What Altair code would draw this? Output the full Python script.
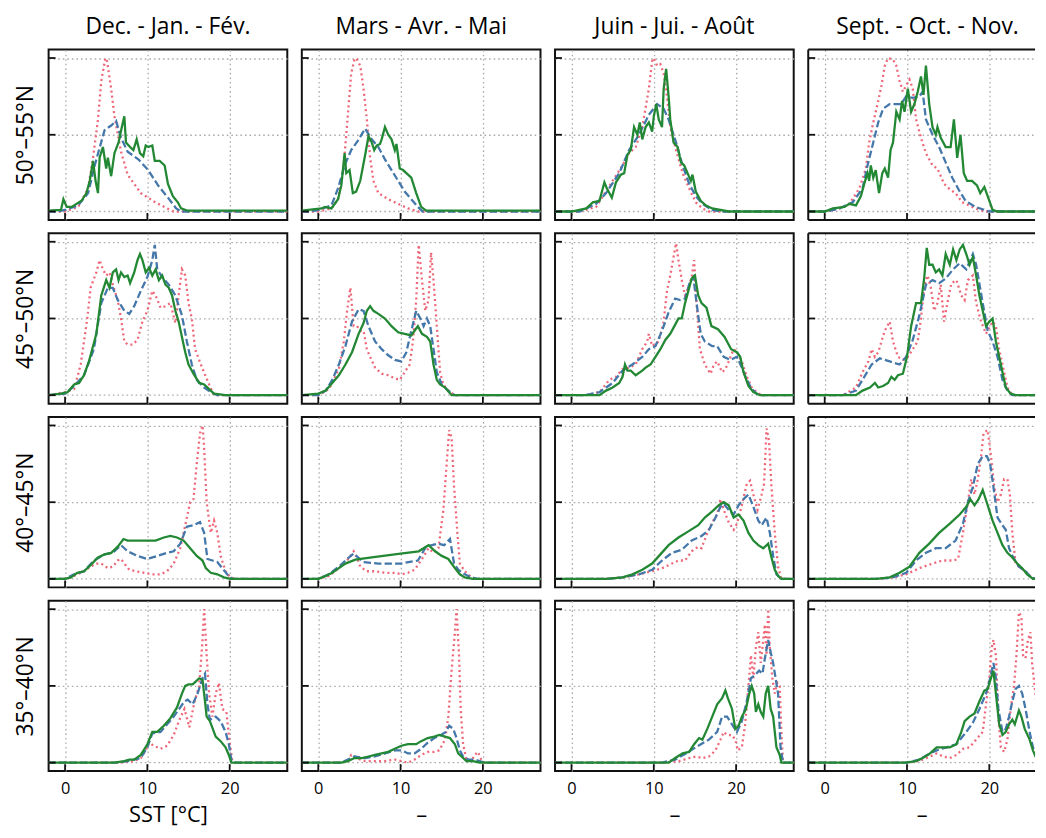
import altair as alt
import pandas as pd

SEASONS = ["Dec. - Jan. - Fév.", "Mars - Avr. - Mai", "Juin - Jui. - Août", "Sept. - Oct. - Nov."]
BANDS = ["50°–55°N", "45°–50°N", "40°–45°N", "35°–40°N"]
X_TITLES = ["SST [°C]", "–", "–", "–"]
X_TICKS = [0, 10, 20]
Y_TICKS = [0, 0.5, 1]
SERIES = ["pointillé", "tirets", "continu"]

# ---- row 1 : 50°–55°N ----
R1C1_RED = [(-2,0),(0,0),(1.6,0.03),(2.8,0.15),(3.4,0.35),(4.0,0.6),(4.4,0.85),(4.9,1.0),(5.1,0.98),(5.6,0.8),(6.0,0.62),(6.8,0.39),(7.6,0.24),(9.2,0.12),(10.8,0.065),(12.4,0.02),(13.2,0),(27,0)]
R1C1_BLUE = [(-2,0),(-1,0),(0,0.01),(1.6,0.04),(2.8,0.12),(3.6,0.3),(4.8,0.53),(5.6,0.56),(6.2,0.59),(6.8,0.48),(7.6,0.39),(8.9,0.34),(10.1,0.27),(11.3,0.17),(12.5,0.09),(13.5,0.02),(14.1,0),(27,0)]
R1C1_GREEN = [(-2,0.005),(-0.5,0.01),(-0.2,0.08),(0.2,0.03),(0.8,0.03),(2.0,0.07),(2.6,0.12),(3.0,0.2),(3.4,0.33),(3.7,0.2),(4.0,0.12),(4.2,0.35),(4.6,0.42),(5.0,0.28),(5.2,0.35),(5.6,0.23),(6.0,0.38),(6.5,0.45),(6.9,0.55),(7.2,0.62),(7.4,0.45),(7.9,0.42),(8.3,0.4),(8.7,0.47),(9.1,0.38),(9.5,0.36),(9.8,0.43),(10.1,0.42),(10.6,0.43),(10.9,0.33),(11.5,0.33),(12.1,0.3),(12.5,0.18),(13.1,0.1),(13.7,0.06),(14.1,0.02),(14.9,0.005),(27,0.005)]

R1C2_RED = [(-2,0),(0,0),(1.6,0.02),(2.4,0.08),(3.0,0.25),(3.4,0.5),(3.7,0.7),(4.0,0.9),(4.4,0.99),(4.6,1.0),(5.1,0.95),(5.5,0.8),(5.9,0.6),(6.3,0.35),(6.7,0.2),(7.3,0.12),(8.5,0.08),(9.7,0.05),(10.9,0.02),(12.1,0),(27,0)]
R1C2_BLUE = [(-2,0),(-1,0),(0,0.01),(1.6,0.04),(2.4,0.15),(3.2,0.3),(4.0,0.4),(4.8,0.46),(5.7,0.54),(6.5,0.47),(7.3,0.42),(8.1,0.34),(8.9,0.27),(9.7,0.2),(10.5,0.13),(11.3,0.08),(12.1,0.03),(12.7,0),(27,0)]
R1C2_GREEN = [(-2,0.005),(-1.2,0.01),(0.4,0.02),(0.8,0.03),(1.6,0.02),(2.4,0.08),(2.8,0.17),(3.2,0.38),(3.4,0.25),(3.8,0.27),(4.2,0.12),(4.6,0.13),(5.1,0.2),(5.7,0.37),(6.1,0.49),(6.5,0.45),(6.8,0.4),(7.1,0.43),(7.5,0.44),(7.7,0.47),(8.1,0.55),(8.5,0.5),(8.9,0.47),(9.3,0.4),(9.5,0.44),(9.9,0.28),(10.3,0.27),(10.9,0.24),(11.3,0.22),(11.9,0.12),(12.5,0.03),(13.1,0.005),(27,0.005)]

R1C3_RED = [(-2,0),(1.0,0),(3.0,0.03),(5.0,0.2),(6.2,0.3),(7.0,0.38),(7.8,0.42),(8.6,0.55),(9.4,0.8),(9.8,0.98),(10.0,1.0),(10.4,0.95),(10.8,0.96),(11.2,0.9),(11.6,0.75),(12.0,0.55),(12.7,0.4),(13.5,0.25),(14.3,0.15),(15.1,0.06),(15.9,0.02),(16.7,0),(27,0)]
R1C3_BLUE = [(-2,0),(1.0,0),(3.0,0.05),(4.2,0.12),(5.8,0.25),(7.0,0.4),(8.2,0.5),(9.4,0.63),(10.4,0.7),(11.2,0.67),(11.8,0.6),(12.7,0.45),(13.5,0.3),(14.3,0.18),(15.1,0.1),(15.9,0.05),(17.1,0.01),(18.3,0),(27,0)]
R1C3_GREEN = [(-2,0),(0,0),(1.8,0.02),(2.6,0.06),(3.4,0.07),(4.0,0.19),(4.3,0.15),(4.6,0.12),(4.9,0.09),(5.4,0.19),(6.0,0.24),(6.4,0.25),(6.8,0.37),(7.2,0.4),(7.6,0.55),(8.0,0.5),(8.3,0.58),(8.6,0.47),(9.0,0.55),(9.4,0.58),(9.8,0.52),(10.0,0.62),(10.3,0.7),(10.6,0.6),(11.0,0.55),(11.2,0.8),(11.5,0.93),(11.8,0.75),(12.0,0.6),(12.4,0.45),(12.9,0.42),(13.3,0.32),(13.7,0.3),(14.1,0.25),(14.5,0.2),(14.7,0.24),(15.1,0.13),(15.7,0.07),(16.3,0.04),(17.1,0.02),(19.1,0),(27,0)]

R1C4_RED = [(-2,0),(0.2,0),(1.8,0.02),(3.0,0.05),(4.2,0.15),(5.0,0.28),(5.4,0.45),(5.9,0.58),(6.5,0.72),(6.9,0.82),(7.3,0.95),(7.7,1.0),(8.3,0.99),(8.7,0.95),(9.1,0.85),(9.5,0.78),(9.9,0.82),(10.3,0.86),(10.7,0.8),(11.1,0.6),(11.7,0.48),(12.3,0.38),(13.1,0.3),(13.7,0.28),(14.5,0.18),(15.3,0.14),(15.9,0.12),(16.7,0.06),(17.5,0.04),(18.8,0.01),(19.5,0),(27,0)]
R1C4_BLUE = [(-2,0),(0.2,0),(1.8,0.02),(3.4,0.06),(4.6,0.15),(5.2,0.3),(5.9,0.45),(6.5,0.58),(7.1,0.67),(7.9,0.7),(8.7,0.7),(9.3,0.7),(9.9,0.75),(10.7,0.74),(11.5,0.75),(11.9,0.78),(12.3,0.6),(13.1,0.5),(13.9,0.42),(14.7,0.32),(15.5,0.22),(16.3,0.14),(17.1,0.07),(18.3,0.03),(20,0),(27,0)]
R1C4_GREEN = [(-2,0),(0,0),(1.0,0.02),(2.4,0.03),(3.0,0.05),(3.8,0.04),(4.4,0.1),(4.8,0.18),(5.2,0.25),(5.4,0.2),(5.6,0.3),(5.9,0.22),(6.2,0.27),(6.6,0.12),(7.0,0.25),(7.3,0.28),(7.7,0.22),(8.0,0.4),(8.3,0.45),(8.5,0.55),(8.7,0.65),(9.1,0.6),(9.4,0.72),(9.7,0.65),(10.1,0.8),(10.5,0.65),(10.9,0.7),(11.3,0.78),(11.7,0.88),(12.0,0.76),(12.3,0.95),(12.7,0.7),(13.1,0.55),(13.5,0.5),(13.7,0.55),(14.1,0.48),(14.7,0.42),(15.3,0.42),(15.7,0.6),(16.1,0.35),(16.5,0.5),(16.9,0.25),(17.3,0.2),(17.9,0.2),(18.5,0.17),(18.9,0.12),(19.4,0.16),(19.8,0.1),(20.4,0.01),(21,0),(27,0)]

# ---- row 2 : 45°–50°N ----
R2C1_RED = [(-2,0),(0,0.02),(1.1,0.04),(1.9,0.2),(2.7,0.5),(3.1,0.7),(3.8,0.8),(4.2,0.88),(4.6,0.82),(5.0,0.78),(5.4,0.8),(5.8,0.72),(6.4,0.62),(6.8,0.5),(7.2,0.35),(7.6,0.33),(8.2,0.33),(8.8,0.36),(9.4,0.48),(10.0,0.55),(10.6,0.68),(11.0,0.65),(11.6,0.57),(12.2,0.58),(12.8,0.6),(13.4,0.47),(13.8,0.65),(14.2,0.82),(14.6,0.78),(15.0,0.6),(15.4,0.5),(15.8,0.3),(16.5,0.2),(17.1,0.12),(17.5,0.07),(18.1,0),(27,0)]
R2C1_BLUE = [(-2,0),(0,0.01),(1.1,0.06),(2.3,0.13),(3.5,0.3),(4.4,0.6),(5.2,0.7),(5.8,0.7),(6.4,0.62),(7.2,0.55),(7.8,0.53),(8.4,0.58),(9.2,0.68),(10.0,0.77),(10.6,0.88),(10.9,0.98),(11.2,0.82),(11.8,0.77),(12.6,0.72),(13.4,0.65),(14.2,0.52),(14.8,0.35),(15.4,0.2),(16.0,0.1),(16.9,0.05),(17.7,0.02),(18.5,0),(27,0)]
R2C1_GREEN = [(-2,0),(-0.5,0.01),(0.3,0.02),(1.1,0.07),(1.7,0.08),(2.3,0.13),(2.9,0.22),(3.8,0.4),(4.4,0.65),(5.0,0.75),(5.4,0.7),(5.8,0.8),(6.2,0.82),(6.5,0.75),(6.8,0.8),(7.2,0.77),(7.6,0.78),(7.9,0.73),(8.4,0.8),(8.8,0.88),(9.1,0.92),(9.4,0.88),(9.8,0.8),(10.2,0.83),(10.6,0.78),(11.0,0.82),(11.4,0.75),(11.8,0.78),(12.2,0.72),(12.6,0.7),(13.0,0.65),(13.4,0.55),(13.8,0.48),(14.2,0.38),(14.6,0.28),(15.0,0.2),(15.6,0.14),(16.3,0.08),(16.9,0.07),(17.5,0.04),(18.1,0.01),(19.5,0),(27,0)]

R2C2_RED = [(-2,0),(0,0),(1.3,0.04),(2.5,0.17),(3.1,0.35),(3.5,0.55),(3.9,0.7),(4.3,0.45),(4.7,0.45),(5.1,0.42),(5.5,0.42),(5.9,0.3),(6.3,0.25),(6.9,0.18),(7.7,0.14),(8.5,0.13),(9.3,0.11),(9.9,0.1),(10.5,0.15),(11.1,0.2),(11.5,0.35),(11.9,0.62),(12.2,0.98),(12.6,0.75),(13.0,0.55),(13.4,0.62),(13.7,0.93),(14.0,0.75),(14.4,0.45),(14.8,0.15),(15.2,0.07),(15.8,0.03),(16.6,0),(27,0)]
R2C2_BLUE = [(-2,0),(0,0),(0.9,0.03),(1.7,0.1),(2.5,0.2),(3.3,0.32),(4.1,0.48),(4.9,0.56),(5.5,0.55),(6.1,0.45),(6.9,0.35),(7.7,0.3),(8.5,0.26),(9.3,0.23),(10.1,0.22),(10.7,0.28),(11.3,0.42),(11.9,0.55),(12.4,0.5),(12.8,0.45),(13.2,0.5),(13.6,0.45),(14.0,0.3),(14.4,0.15),(15.0,0.07),(15.8,0.03),(16.6,0),(27,0)]
R2C2_GREEN = [(-2,0),(0,0.01),(0.9,0.03),(1.7,0.08),(2.5,0.13),(3.3,0.2),(4.1,0.28),(4.9,0.4),(5.5,0.47),(5.9,0.55),(6.3,0.58),(6.7,0.55),(7.3,0.53),(8.1,0.5),(8.9,0.45),(9.7,0.41),(10.5,0.4),(11.3,0.39),(11.7,0.42),(12.1,0.45),(12.6,0.4),(13.2,0.38),(13.6,0.35),(14.0,0.2),(14.4,0.1),(14.8,0.07),(15.4,0.05),(16.2,0),(27,0)]

R2C3_RED = [(-2,0),(1.7,0),(3.4,0.02),(4.6,0.1),(5.4,0.12),(6.2,0.17),(7.0,0.18),(7.8,0.2),(8.6,0.3),(9.2,0.35),(9.4,0.4),(9.8,0.32),(10.6,0.35),(11.2,0.48),(11.6,0.68),(12.0,0.78),(12.4,0.9),(12.7,0.99),(13.0,0.88),(13.4,0.75),(13.8,0.65),(14.2,0.7),(14.6,0.77),(14.9,0.88),(15.2,0.6),(15.6,0.3),(16.2,0.2),(16.9,0.14),(17.3,0.2),(17.7,0.22),(18.3,0.15),(18.7,0.17),(19.1,0.22),(19.7,0.3),(20.1,0.28),(20.7,0.22),(21.3,0.12),(21.9,0.05),(22.5,0.02),(23.1,0),(27,0)]
R2C3_BLUE = [(-2,0),(1.7,0),(3.4,0.02),(5.0,0.08),(6.2,0.16),(7.4,0.2),(8.6,0.25),(9.4,0.3),(10.2,0.32),(11.0,0.42),(11.8,0.54),(12.6,0.63),(13.2,0.62),(13.8,0.63),(14.4,0.74),(14.8,0.77),(15.2,0.6),(15.7,0.4),(16.2,0.35),(17.1,0.32),(17.7,0.32),(18.5,0.25),(19.3,0.23),(20.1,0.25),(20.7,0.18),(21.3,0.1),(21.9,0.04),(22.7,0),(27,0)]
R2C3_GREEN = [(-2,0),(3.4,0),(4.2,0.03),(5.0,0.05),(5.8,0.08),(6.2,0.12),(6.5,0.2),(6.8,0.16),(7.2,0.16),(7.8,0.13),(8.6,0.16),(9.0,0.18),(9.6,0.2),(10.2,0.25),(10.8,0.3),(11.4,0.36),(12.0,0.4),(12.6,0.46),(13.0,0.5),(13.4,0.5),(13.8,0.6),(14.2,0.68),(14.6,0.76),(15.0,0.78),(15.4,0.65),(15.8,0.6),(16.4,0.57),(17.0,0.45),(17.8,0.43),(18.6,0.38),(19.4,0.3),(20.1,0.28),(20.5,0.25),(20.9,0.15),(21.5,0.06),(22.1,0.02),(22.9,0),(27,0)]

R2C4_RED = [(-2,0),(2.2,0),(3.8,0.05),(4.6,0.15),(5.3,0.22),(5.7,0.3),(6.1,0.25),(6.5,0.28),(6.9,0.35),(7.3,0.42),(7.9,0.48),(8.3,0.35),(8.9,0.25),(9.5,0.23),(10.1,0.25),(10.7,0.3),(11.3,0.35),(11.7,0.5),(12.1,0.72),(12.5,0.78),(12.9,0.7),(13.3,0.55),(13.7,0.6),(14.1,0.72),(14.5,0.48),(14.9,0.6),(15.4,0.73),(16.0,0.75),(16.6,0.65),(17.0,0.62),(17.4,0.75),(18.0,0.78),(18.4,0.6),(19.0,0.48),(19.6,0.4),(20.4,0.48),(20.8,0.45),(21.2,0.3),(21.8,0.15),(22.2,0.05),(22.8,0),(27,0)]
R2C4_BLUE = [(-2,0),(2.2,0),(3.8,0.03),(4.6,0.1),(5.7,0.2),(6.7,0.24),(7.9,0.22),(9.1,0.2),(9.9,0.25),(10.7,0.36),(11.5,0.52),(12.3,0.72),(13.1,0.75),(13.9,0.73),(14.7,0.76),(15.6,0.82),(16.4,0.86),(17.2,0.82),(18.0,0.92),(18.4,0.85),(19.2,0.6),(19.8,0.42),(20.4,0.35),(21.0,0.25),(21.6,0.1),(22.2,0.03),(22.8,0),(27,0)]
R2C4_GREEN = [(-2,0),(3.8,0),(4.6,0.03),(5.5,0.05),(6.1,0.08),(6.5,0.05),(7.1,0.06),(7.7,0.08),(8.1,0.12),(8.5,0.1),(8.9,0.13),(9.5,0.14),(10.0,0.25),(10.5,0.45),(11.1,0.6),(11.7,0.6),(12.1,0.77),(12.4,0.96),(12.7,0.85),(13.1,0.85),(13.5,0.8),(13.9,0.82),(14.3,0.78),(14.7,0.92),(15.2,0.85),(15.6,0.95),(16.0,0.88),(16.4,0.95),(16.8,0.98),(17.2,0.92),(17.6,0.85),(18.0,0.9),(18.4,0.78),(18.8,0.65),(19.2,0.55),(19.6,0.45),(20.0,0.48),(20.4,0.5),(20.8,0.35),(21.4,0.2),(22.0,0.05),(22.6,0.01),(23.2,0),(27,0)]

# ---- row 3 : 40°–45°N ----
R3C1_RED = [(-2,0),(0,0),(0.7,0.01),(1.5,0.03),(2.3,0.05),(3.1,0.08),(3.8,0.1),(4.4,0.1),(5.2,0.07),(5.8,0.08),(6.4,0.12),(6.8,0.13),(7.2,0.1),(7.8,0.06),(8.6,0.05),(9.6,0.04),(10.6,0.03),(11.6,0.03),(12.4,0.05),(13.2,0.1),(14.0,0.2),(14.6,0.35),(15.2,0.5),(15.6,0.52),(16.0,0.75),(16.4,0.95),(16.7,1.0),(16.9,0.85),(17.2,0.5),(17.7,0.3),(18.1,0.38),(18.5,0.3),(18.9,0.15),(19.5,0.05),(20.1,0.01),(20.8,0),(27,0)]
R3C1_BLUE = [(-2,0),(0,0),(1.1,0.03),(2.3,0.05),(3.5,0.12),(4.8,0.16),(5.8,0.17),(6.8,0.22),(7.6,0.18),(8.8,0.15),(10.0,0.13),(11.2,0.15),(12.4,0.17),(13.2,0.18),(14.0,0.23),(14.8,0.34),(15.6,0.35),(16.4,0.37),(16.9,0.3),(17.3,0.13),(17.9,0.12),(18.5,0.11),(19.1,0.07),(19.7,0.03),(20.3,0),(27,0)]
R3C1_GREEN = [(-2,0),(0,0),(0.7,0.01),(1.5,0.04),(2.3,0.05),(3.1,0.09),(4.0,0.14),(4.8,0.16),(5.6,0.17),(6.4,0.21),(7.1,0.26),(7.6,0.25),(8.4,0.25),(9.2,0.25),(10.0,0.25),(11.0,0.25),(12.0,0.27),(12.8,0.28),(13.6,0.27),(14.4,0.25),(15.2,0.2),(16.0,0.15),(16.7,0.12),(17.1,0.07),(17.7,0.04),(18.5,0.03),(19.3,0.01),(20.1,0),(27,0)]

R3C2_RED = [(-2,0),(0,0),(1.3,0.02),(2.5,0.07),(3.5,0.12),(4.3,0.18),(4.7,0.14),(5.1,0.08),(5.9,0.05),(6.9,0.05),(8.1,0.04),(9.3,0.04),(10.1,0.03),(10.9,0.04),(11.7,0.06),(12.6,0.13),(13.4,0.2),(14.0,0.17),(14.6,0.2),(15.2,0.45),(15.6,0.75),(15.9,0.97),(16.2,0.92),(16.5,0.6),(16.9,0.3),(17.2,0.1),(17.8,0.05),(18.6,0.01),(19.4,0),(27,0)]
R3C2_BLUE = [(-2,0),(0,0),(1.3,0.03),(2.5,0.08),(3.5,0.13),(4.3,0.165),(5.5,0.11),(7.3,0.1),(10.0,0.1),(12.1,0.12),(13.1,0.21),(14.5,0.23),(15.3,0.22),(16.0,0.26),(16.5,0.1),(17.0,0.06),(17.8,0.03),(18.6,0.01),(19.4,0),(27,0)]
R3C2_GREEN = [(-2,0),(0,0),(0.9,0.02),(1.7,0.04),(2.5,0.07),(3.3,0.1),(4.5,0.126),(6.5,0.14),(10.0,0.165),(12.2,0.18),(13.4,0.22),(14.2,0.18),(15.0,0.15),(15.8,0.13),(16.6,0.07),(17.2,0.03),(17.8,0.01),(18.8,0),(27,0)]

R3C3_RED = [(-2,0),(4.2,0),(6.2,0.01),(8.2,0.03),(9.8,0.05),(11.0,0.07),(12.2,0.1),(13.0,0.12),(13.8,0.12),(14.6,0.18),(15.4,0.21),(15.8,0.2),(16.5,0.3),(17.1,0.37),(17.7,0.42),(18.1,0.52),(18.5,0.45),(19.1,0.37),(19.7,0.32),(20.1,0.36),(20.7,0.48),(21.3,0.62),(21.7,0.64),(22.1,0.55),(22.6,0.45),(23.1,0.55),(23.4,0.62),(23.7,0.98),(24.0,0.9),(24.3,0.6),(24.7,0.3),(25.1,0.08),(25.5,0),(27,0)]
R3C3_BLUE = [(-2,0),(4.2,0),(6.2,0.01),(8.2,0.03),(9.8,0.06),(11.0,0.12),(12.2,0.17),(13.4,0.19),(14.6,0.25),(15.8,0.28),(16.7,0.32),(17.5,0.4),(18.1,0.47),(18.5,0.49),(19.1,0.45),(19.7,0.42),(20.3,0.48),(20.9,0.52),(21.5,0.55),(22.1,0.47),(22.7,0.38),(23.1,0.35),(23.7,0.4),(24.1,0.3),(24.5,0.15),(24.9,0.03),(25.5,0),(27,0)]
R3C3_GREEN = [(-2,0),(4.2,0),(6.2,0.01),(7.4,0.03),(8.6,0.06),(9.8,0.1),(10.8,0.16),(11.8,0.22),(13.0,0.27),(14.2,0.31),(15.4,0.35),(16.2,0.4),(17.1,0.44),(17.9,0.48),(18.5,0.5),(19.1,0.48),(19.7,0.4),(20.3,0.42),(20.9,0.38),(21.5,0.3),(22.1,0.25),(22.7,0.22),(23.3,0.2),(23.9,0.23),(24.3,0.14),(24.7,0.06),(25.1,0.02),(25.5,0),(27,0)]

R3C4_RED = [(-2,0),(6.3,0),(8.3,0.01),(9.9,0.03),(11.5,0.07),(13.1,0.1),(14.3,0.12),(15.6,0.12),(16.2,0.13),(16.8,0.3),(17.4,0.5),(17.8,0.65),(18.2,0.55),(18.6,0.65),(19.0,0.8),(19.3,0.95),(19.8,0.97),(20.2,0.8),(20.6,0.6),(21.0,0.5),(21.4,0.55),(21.8,0.65),(22.2,0.65),(22.5,0.55),(22.8,0.3),(23.2,0.1),(23.8,0.07),(24.4,0.05),(25.1,0.01),(25.7,0),(27,0)]
R3C4_BLUE = [(-2,0),(6.3,0),(8.3,0.01),(9.9,0.04),(11.1,0.12),(12.3,0.17),(13.5,0.2),(14.7,0.2),(15.9,0.25),(16.8,0.36),(17.4,0.5),(18.0,0.6),(18.6,0.75),(19.2,0.8),(19.7,0.8),(20.1,0.75),(20.5,0.6),(21.0,0.4),(21.6,0.35),(22.0,0.32),(22.4,0.2),(22.8,0.15),(23.6,0.08),(24.4,0.05),(25.1,0.01),(25.7,0),(27,0)]
R3C4_GREEN = [(-2,0),(6.3,0),(7.9,0.01),(9.1,0.04),(10.3,0.08),(11.5,0.17),(12.7,0.23),(13.9,0.3),(15.2,0.36),(16.4,0.42),(17.2,0.47),(17.7,0.52),(18.2,0.48),(18.7,0.52),(19.2,0.58),(19.8,0.48),(20.4,0.38),(21.0,0.3),(21.6,0.22),(22.2,0.17),(22.8,0.14),(23.4,0.1),(24.0,0.07),(24.6,0.03),(25.3,0),(27,0)]

# ---- row 4 : 35°–40°N ----
R4C1_RED = [(-2,0),(6.8,0),(8.4,0.01),(9.2,0.03),(9.8,0.08),(10.2,0.13),(10.8,0.11),(11.6,0.09),(12.4,0.11),(13.2,0.18),(13.9,0.28),(14.5,0.35),(15.1,0.23),(15.7,0.39),(16.3,0.5),(16.7,0.8),(16.9,1.0),(17.2,0.7),(17.5,0.45),(17.9,0.3),(18.3,0.45),(18.7,0.52),(19.1,0.35),(19.6,0.33),(20.0,0.13),(20.3,0.02),(20.6,0),(27,0)]
R4C1_BLUE = [(-2,0),(6.0,0),(7.6,0.01),(9.2,0.03),(10.0,0.1),(10.6,0.19),(11.6,0.2),(12.4,0.25),(13.2,0.3),(14.0,0.36),(14.5,0.4),(14.9,0.41),(15.5,0.38),(16.1,0.45),(16.7,0.55),(17.0,0.58),(17.3,0.38),(17.6,0.28),(18.3,0.3),(18.9,0.27),(19.5,0.2),(19.9,0.12),(20.2,0.02),(20.6,0),(27,0)]
R4C1_GREEN = [(-2,0),(6.0,0),(7.2,0.01),(7.8,0.02),(8.4,0.02),(9.2,0.05),(10.0,0.12),(10.6,0.2),(11.2,0.2),(12.0,0.24),(12.8,0.29),(13.6,0.36),(14.2,0.45),(14.6,0.5),(15.0,0.51),(15.5,0.51),(15.9,0.53),(16.3,0.55),(16.7,0.54),(17.0,0.4),(17.2,0.3),(17.6,0.27),(18.3,0.17),(18.9,0.14),(19.5,0.1),(19.9,0.05),(20.2,0),(27,0)]

R4C2_RED = [(-2,0),(2.8,0),(3.6,0.01),(4.0,0.05),(4.4,0.04),(5.1,0.02),(5.7,0.01),(6.9,0.01),(8.1,0.01),(9.3,0.02),(10.1,0.01),(10.9,0.0),(11.7,0.02),(12.5,0.05),(13.3,0.07),(14.1,0.07),(14.7,0.08),(15.4,0.15),(15.8,0.3),(16.2,0.6),(16.6,0.85),(16.8,1.0),(17.1,0.7),(17.3,0.35),(17.6,0.12),(18.0,0.02),(18.6,0.01),(19.0,0.05),(19.4,0.07),(19.8,0.02),(20.2,0),(27,0)]
R4C2_BLUE = [(-2,0),(2.8,0),(3.6,0.02),(4.4,0.04),(5.7,0.03),(6.9,0.04),(8.1,0.06),(9.3,0.08),(10.1,0.08),(10.9,0.06),(11.7,0.06),(12.5,0.09),(13.3,0.13),(14.1,0.16),(14.9,0.18),(15.5,0.2),(15.9,0.24),(16.4,0.22),(16.8,0.16),(17.2,0.08),(17.6,0.04),(18.2,0.02),(19.0,0.02),(19.6,0.01),(20.2,0),(27,0)]
R4C2_GREEN = [(-2,0),(2.8,0),(3.6,0.01),(4.4,0.03),(5.3,0.03),(6.1,0.04),(6.9,0.05),(7.7,0.06),(8.5,0.07),(9.3,0.09),(10.1,0.11),(10.9,0.12),(11.9,0.12),(12.5,0.14),(13.3,0.16),(14.1,0.17),(14.7,0.18),(15.4,0.17),(16.0,0.16),(16.6,0.12),(17.0,0.06),(17.4,0.04),(18.0,0.01),(18.8,0.01),(19.6,0),(27,0)]

R4C3_RED = [(-2,0),(11.0,0),(13.1,0.01),(14.3,0.03),(15.1,0.04),(15.9,0.03),(16.7,0.04),(17.5,0.08),(18.1,0.15),(18.5,0.2),(18.9,0.18),(19.5,0.18),(19.9,0.15),(20.2,0.08),(20.7,0.1),(21.1,0.25),(21.5,0.5),(21.8,0.7),(22.1,0.55),(22.4,0.75),(22.7,0.85),(23.0,0.65),(23.3,0.8),(23.5,0.9),(23.7,0.7),(23.9,1.0),(24.1,0.75),(24.4,0.55),(24.7,0.45),(25.0,0.52),(25.3,0.5),(25.5,0.2),(25.7,0),(27,0)]
R4C3_BLUE = [(-2,0),(11.0,0),(12.6,0.02),(13.9,0.06),(15.1,0.1),(16.7,0.15),(17.7,0.2),(18.3,0.3),(18.9,0.3),(19.5,0.25),(20.1,0.2),(20.7,0.27),(21.3,0.4),(21.8,0.55),(22.3,0.57),(22.8,0.6),(23.2,0.58),(23.5,0.68),(23.9,0.8),(24.2,0.72),(24.5,0.65),(24.8,0.55),(25.1,0.45),(25.4,0.1),(25.7,0),(27,0)]
R4C3_GREEN = [(-2,0),(11.8,0),(12.6,0.03),(13.5,0.06),(14.3,0.07),(14.9,0.12),(15.5,0.16),(15.9,0.15),(16.5,0.22),(17.1,0.3),(17.7,0.38),(18.3,0.42),(18.7,0.47),(19.0,0.42),(19.5,0.35),(19.9,0.22),(20.3,0.24),(20.7,0.3),(21.2,0.35),(21.6,0.45),(21.9,0.5),(22.2,0.45),(22.4,0.33),(22.7,0.38),(23.0,0.33),(23.3,0.3),(23.6,0.45),(23.9,0.5),(24.2,0.35),(24.5,0.3),(24.9,0.1),(25.3,0.05),(25.5,0),(27,0)]

R4C4_RED = [(-2,0),(9.9,0),(11.5,0.01),(12.8,0.04),(13.6,0.06),(14.4,0.04),(15.2,0.03),(16.0,0.05),(16.8,0.09),(17.6,0.1),(18.4,0.15),(19.2,0.2),(19.6,0.38),(20.0,0.55),(20.3,0.75),(20.5,0.8),(20.8,0.7),(21.1,0.3),(21.4,0.1),(21.8,0.07),(22.2,0.15),(22.6,0.35),(23.0,0.5),(23.3,0.7),(23.6,0.98),(23.9,0.95),(24.1,0.7),(24.4,0.68),(24.7,0.8),(25.0,0.85),(25.2,0.65),(25.5,0.5),(25.8,0.35),(26.0,0.2),(26.5,0.05),(27,0)]
R4C4_BLUE = [(-2,0),(9.9,0),(11.5,0.02),(12.8,0.06),(13.6,0.08),(14.8,0.1),(16.0,0.12),(17.2,0.2),(18.0,0.26),(18.8,0.35),(19.6,0.45),(20.1,0.55),(20.5,0.65),(20.8,0.55),(21.1,0.35),(21.6,0.2),(22.0,0.22),(22.4,0.3),(22.8,0.4),(23.2,0.48),(23.6,0.5),(24.0,0.45),(24.4,0.35),(24.9,0.2),(25.3,0.1),(25.7,0.05),(26.1,0.01),(27,0)]
R4C4_GREEN = [(-2,0),(9.9,0),(11.1,0.01),(11.9,0.03),(12.8,0.06),(13.6,0.1),(14.4,0.1),(15.2,0.1),(16.0,0.12),(16.6,0.2),(17.0,0.27),(17.6,0.3),(18.2,0.32),(18.8,0.4),(19.4,0.47),(19.8,0.48),(20.2,0.55),(20.5,0.6),(20.8,0.45),(21.2,0.25),(21.6,0.18),(22.0,0.2),(22.4,0.25),(22.8,0.28),(23.1,0.25),(23.6,0.34),(23.9,0.3),(24.3,0.22),(24.9,0.15),(25.3,0.08),(25.7,0.03),(26.1,0.01),(27,0)]

PANELS = [
    [(R1C1_RED, R1C1_BLUE, R1C1_GREEN), (R1C2_RED, R1C2_BLUE, R1C2_GREEN), (R1C3_RED, R1C3_BLUE, R1C3_GREEN), (R1C4_RED, R1C4_BLUE, R1C4_GREEN)],
    [(R2C1_RED, R2C1_BLUE, R2C1_GREEN), (R2C2_RED, R2C2_BLUE, R2C2_GREEN), (R2C3_RED, R2C3_BLUE, R2C3_GREEN), (R2C4_RED, R2C4_BLUE, R2C4_GREEN)],
    [(R3C1_RED, R3C1_BLUE, R3C1_GREEN), (R3C2_RED, R3C2_BLUE, R3C2_GREEN), (R3C3_RED, R3C3_BLUE, R3C3_GREEN), (R3C4_RED, R3C4_BLUE, R3C4_GREEN)],
    [(R4C1_RED, R4C1_BLUE, R4C1_GREEN), (R4C2_RED, R4C2_BLUE, R4C2_GREEN), (R4C3_RED, R4C3_BLUE, R4C3_GREEN), (R4C4_RED, R4C4_BLUE, R4C4_GREEN)],
]

STYLES = {
    "pointillé": dict(color="#EE6677", strokeDash=[2, 3.2], strokeWidth=2.3),
    "tirets": dict(color="#4477AA", strokeDash=[7.4, 3.2], strokeWidth=2.3),
    "continu": dict(color="#228833", strokeWidth=2.3),
}

FONT = "Open Sans"
FS_TITLE = 23
FS_XTITLE = 22
W, H = 241, 172
W_LAST = 229          # last column is cut by the figure edge
X_DOMAIN = [-2, 27]
X_DOMAIN_LAST = [-2, -2 + 29 * W_LAST / W]
Y_DOMAIN = [-0.055, 1.055]
FRAME = "#111111"
TICK_LEN = 7


def panel(r, c):
    rows = []
    for s, pts in zip(SERIES, PANELS[r][c]):
        for x, y in pts:
            rows.append({"serie": s, "x": x, "y": y})
    df = pd.DataFrame(rows)
    bottom = r == 3
    left = c == 0
    last = c == 3
    width = W_LAST if last else W
    xscale = alt.Scale(domain=X_DOMAIN_LAST if last else X_DOMAIN, nice=False, zero=False)
    yscale = alt.Scale(domain=Y_DOMAIN, nice=False, zero=False)

    common = dict(grid=True, gridColor="#ababab", gridDash=[1.6, 3.0], gridWidth=1.3,
                  domain=False, ticks=False, tickSize=0,
                  titleFontWeight="normal", titleColor="black", titleFont=FONT)
    xaxis_kw = dict(values=X_TICKS, labels=bottom, labelFontSize=16.5, labelColor="black",
                    labelPadding=10, labelFont=FONT, titlePadding=7, format="d",
                    titleFontSize=FS_XTITLE, **common)
    xaxis_kw["title"] = X_TITLES[c] if bottom else None
    yaxis_kw = dict(values=Y_TICKS, labels=False, titlePadding=11, titleFontSize=FS_TITLE, **common)
    yaxis_kw["title"] = BANDS[r] if left else None
    xaxis = alt.Axis(**xaxis_kw)
    yaxis = alt.Axis(**yaxis_kw)

    layers = []
    for s in SERIES:
        layers.append(
            alt.Chart(df)
            .transform_filter(alt.datum.serie == s)
            .mark_line(clip=True, **STYLES[s])
            .encode(
                x=alt.X("x:Q", scale=xscale, axis=xaxis),
                y=alt.Y("y:Q", scale=yscale, axis=yaxis),
            )
        )
    # inward tick marks at the axis values (same axes, so nothing is dropped)
    layers.append(
        alt.Chart(pd.DataFrame({"v": X_TICKS}))
        .mark_rule(color=FRAME, strokeWidth=1.8)
        .encode(x=alt.X("v:Q", scale=xscale, axis=xaxis), y=alt.value(H), y2=alt.value(H - TICK_LEN))
    )
    layers.append(
        alt.Chart(pd.DataFrame({"v": Y_TICKS}))
        .mark_rule(color=FRAME, strokeWidth=1.8)
        .encode(y=alt.Y("v:Q", scale=yscale, axis=yaxis), x=alt.value(0), x2=alt.value(TICK_LEN))
    )
    one = pd.DataFrame({"k": [0]})
    props = dict(width=width, height=H)
    if last:
        # frame open on the right, like the cropped original
        fr = alt.Chart(one).mark_rule(color=FRAME, strokeWidth=2)
        layers += [
            fr.encode(x=alt.value(0), y=alt.value(0), y2=alt.value(H)),
            fr.encode(x=alt.value(0), x2=alt.value(width), y=alt.value(0)),
            fr.encode(x=alt.value(0), x2=alt.value(width), y=alt.value(H)),
        ]
        props["view"] = alt.ViewBackground(stroke="transparent")
    if r == 0:
        layers.append(
            alt.Chart(one)
            .mark_text(text=SEASONS[c], font=FONT, fontSize=FS_TITLE, color="black",
                       align="center", baseline="alphabetic")
            .encode(x=alt.value(W / 2), y=alt.value(-16))
        )
    return alt.layer(*layers).properties(**props)


grid_rows = [alt.hconcat(*[panel(r, c) for c in range(4)], spacing=14.67, bounds="flush") for r in range(4)]
chart = (
    alt.vconcat(*grid_rows, spacing=9.5)
    .properties(padding={"left": 6, "top": 3, "right": 0, "bottom": 0})
    .configure(font=FONT)
    .configure_view(stroke=FRAME, strokeWidth=2)
)

chart.save("out.html", embed_options={"renderer": "svg", "actions": False})
